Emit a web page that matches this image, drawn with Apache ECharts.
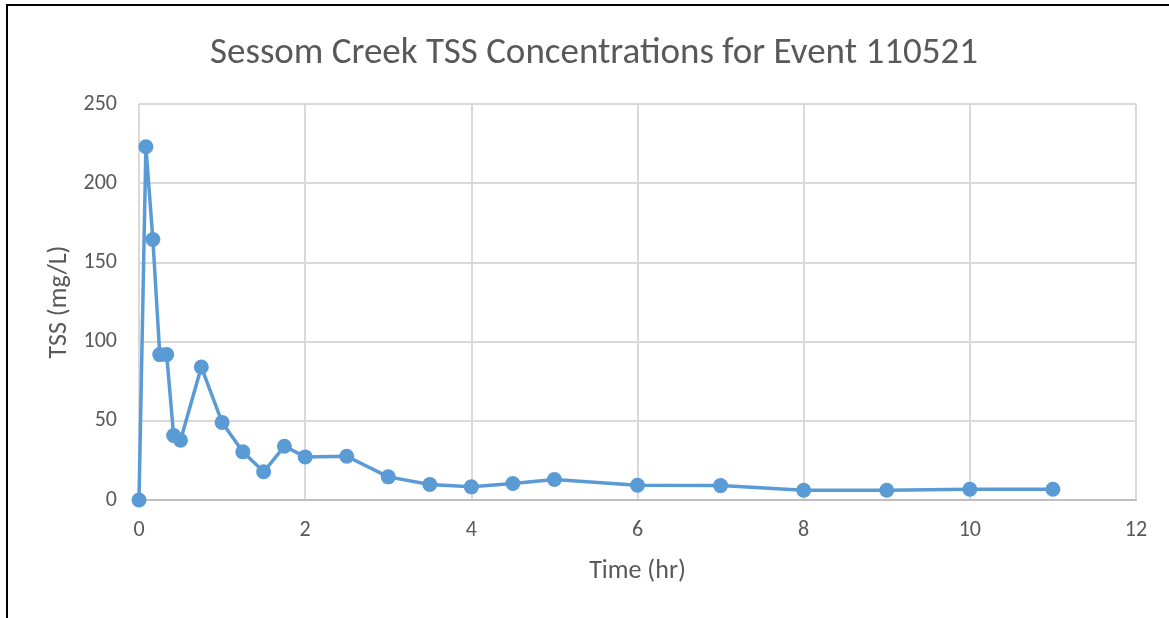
<!DOCTYPE html>
<html>
<head>
<meta charset="utf-8">
<script src="https://cdn.jsdelivr.net/npm/echarts@6/dist/echarts.min.js"></script>
<style>
html,body{margin:0;padding:0;background:#fff;}
#frame{position:absolute;left:6px;top:4px;width:1170px;height:630px;border-left:2px solid #000;border-top:2px solid #000;}
#chart{position:absolute;left:0;top:0;width:1169px;height:618px;}
</style>
</head>
<body>
<div id="frame"></div>
<div id="chart"></div>
<script>
const titleText = 'Sessom Creek TSS Concentrations for Event 110521';
const xAxisName = 'Time (hr)';
const yAxisName = 'TSS (mg/L)';
const timeHr = [0, 0.083, 0.167, 0.25, 0.333, 0.417, 0.5, 0.75, 1.0, 1.25, 1.5, 1.75, 2.0, 2.5, 3.0, 3.5, 4.0, 4.5, 5.0, 6.0, 7.0, 8.0, 9.0, 10.0, 11.0];
const tss = [0, 223, 164.5, 91.8, 91.8, 40.7, 37.7, 84, 49, 30.4, 17.8, 33.9, 27.2, 27.6, 14.6, 9.8, 8.3, 10.4, 12.9, 9.3, 9.1, 6.2, 6.2, 6.8, 6.8];

const chart = echarts.init(document.getElementById('chart'), null, {renderer:'canvas'});
const font = 'Carlito, Calibri, "Open Sans", "Liberation Sans", sans-serif';
chart.setOption({
  animation:false,
  backgroundColor:'transparent',
  title:{text:titleText,left:205,top:30,textStyle:{fontFamily:font,fontSize:37,fontWeight:'normal',color:'#595959'}},
  grid:{left:139,right:33,top:104,bottom:118,containLabel:false},
  xAxis:{type:'value',min:0,max:12,interval:2,name:xAxisName,nameLocation:'middle',nameGap:58,
    nameTextStyle:{fontFamily:font,fontSize:26,color:'#595959'},
    axisLine:{show:true,lineStyle:{color:'#bfbfbf',width:2}},axisTick:{show:false},
    axisLabel:{fontFamily:font,fontSize:22,color:'#595959',margin:19},
    splitLine:{show:true,lineStyle:{color:'#d9d9d9',width:2}}},
  yAxis:{type:'value',min:0,max:250,interval:50,name:yAxisName,nameLocation:'middle',nameGap:64,
    nameTextStyle:{fontFamily:font,fontSize:26,color:'#595959'},
    axisLine:{show:false},axisTick:{show:false},
    axisLabel:{fontFamily:font,fontSize:22,color:'#595959',margin:22},
    splitLine:{show:true,lineStyle:{color:'#d9d9d9',width:2}}},
  series:[{type:'line',data:timeHr.map((t,i)=>[t,tss[i]]),
    symbol:'circle',symbolSize:15,showSymbol:true,
    lineStyle:{color:'#5b9bd5',width:3.5},itemStyle:{color:'#5b9bd5'}}]
});
</script>
</body>
</html>
